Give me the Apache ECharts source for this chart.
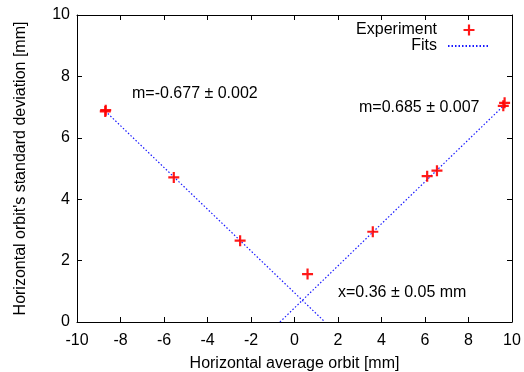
<!DOCTYPE html>
<html>
<head>
<meta charset="utf-8">
<script src="https://cdn.jsdelivr.net/npm/echarts@6/dist/echarts.min.js"></script>
<style>
  html, body { margin: 0; padding: 0; background: #fff; }
  #chart { width: 524px; height: 372px; }
</style>
</head>
<body>
<div id="chart"></div>
<script>
// measured points: [average orbit, standard deviation]
const experiment = [
  [-8.7, 6.86], [-8.68, 6.9], [-5.55, 4.71], [-2.5, 2.65], [0.6, 1.56],
  [3.6, 2.94], [6.1, 4.75], [6.55, 4.93], [9.6, 7.04], [9.66, 7.14]
];
// fitted lines (end points)
const fitLeft = [[-8.7, 6.87], [1.4, 0]];
const fitRight = [[-0.67, 0], [9.62, 7.05]];
const notes = ["m=-0.677 \u00b1 0.002", "m=0.685 \u00b1 0.007", "x=0.36 \u00b1 0.05 mm"];

const font = "'Liberation Sans', Arial, sans-serif";
const plusPath = "path://M4,0H6V4H10V6H6V10H4V6H0V4H4Z";

const chart = echarts.init(document.getElementById("chart"), null, { renderer: "canvas" });

const axisCommon = {
  type: "value",
  axisLine: { show: true, onZero: false, lineStyle: { color: "#000", width: 1 } },
  axisTick: { show: true, inside: true, length: 5, lineStyle: { color: "#000" } },
  splitLine: { show: false }
};

chart.setOption({
  animation: false,
  backgroundColor: "#fff",
  textStyle: { fontFamily: font },
  grid: { left: 77, right: 12, top: 15, bottom: 50, containLabel: false, outerBoundsMode: "none" },
  legend: {
    orient: "vertical",
    right: 28,
    top: 17,
    align: "right",
    itemGap: 0,
    itemWidth: 42,
    itemHeight: 11,
    textStyle: { fontSize: 16, color: "#000", fontFamily: font, padding: [0, 6, 0, 0] },
    data: [
      { name: "Experiment", icon: plusPath },
      { name: "Fits", itemStyle: { opacity: 0 } }
    ]
  },
  xAxis: [
    {
      ...axisCommon, min: -10, max: 10, interval: 2, position: "bottom",
      name: "Horizontal average orbit [mm]", nameLocation: "middle", nameGap: 34,
      nameTextStyle: { fontSize: 16, color: "#000", fontFamily: font },
      axisLabel: { fontSize: 16, color: "#000", margin: 11, fontFamily: font }
    },
    {
      ...axisCommon, min: -10, max: 10, interval: 2, position: "top",
      axisLabel: { show: false }
    }
  ],
  yAxis: [
    {
      ...axisCommon, min: 0, max: 10, interval: 2, position: "left",
      name: "Horizontal orbit's standard deviation [mm]", nameLocation: "middle", nameGap: 48,
      nameTextStyle: { fontSize: 16, color: "#000", fontFamily: font },
      axisLabel: { fontSize: 16, color: "#000", margin: 7, fontFamily: font }
    },
    {
      ...axisCommon, min: 0, max: 10, interval: 2, position: "right",
      axisLabel: { show: false }
    }
  ],
  series: [
    {
      name: "Fits",
      type: "line",
      data: fitLeft,
      showSymbol: false,
      symbol: "none",
      color: "#1a1aff",
      lineStyle: { color: "#1a1aff", width: 1.2, type: [1.5, 2] }
    },
    {
      name: "Fits",
      type: "line",
      data: fitRight,
      showSymbol: false,
      symbol: "none",
      color: "#1a1aff",
      lineStyle: { color: "#1a1aff", width: 1.2, type: [1.5, 2] }
    },
    {
      name: "Experiment",
      type: "scatter",
      data: experiment,
      symbol: plusPath,
      symbolSize: 11,
      itemStyle: { color: "#ff0000", opacity: 0.9 },
      z: 5
    }
  ],
  graphic: [
    { type: "text", left: 132, top: 86, style: { text: notes[0], font: "16px " + font, fill: "#000" } },
    { type: "text", left: 359, top: 100, style: { text: notes[1], font: "16px " + font, fill: "#000" } },
    { type: "text", left: 338, top: 285, style: { text: notes[2], font: "16px " + font, fill: "#000" } }
  ]
});
</script>
</body>
</html>
